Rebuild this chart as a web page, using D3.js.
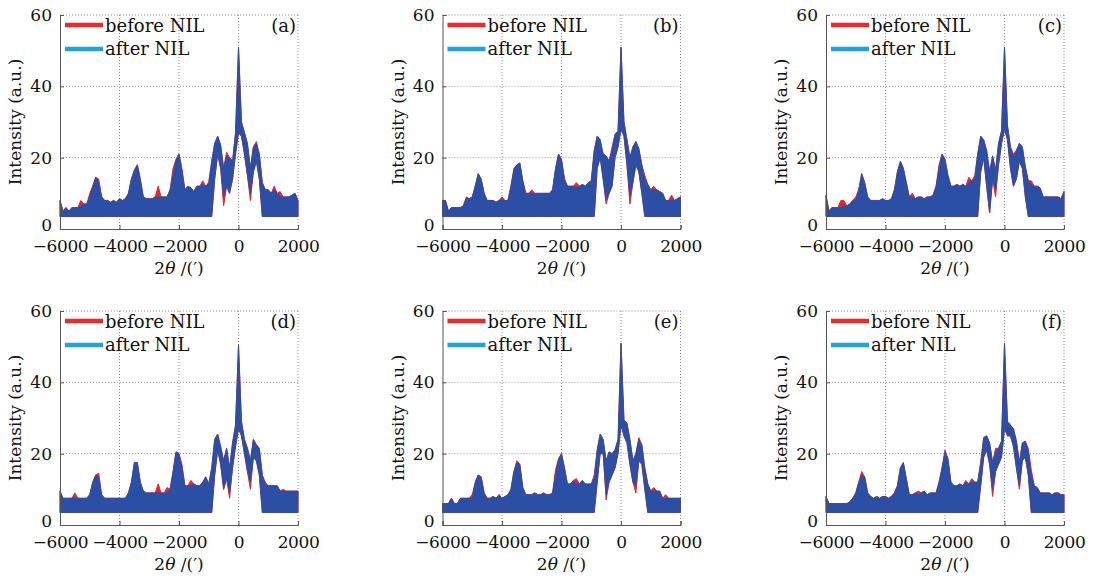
<!DOCTYPE html>
<html>
<head>
<meta charset="utf-8">
<script src="https://cdn.jsdelivr.net/npm/d3@7"></script>
<style>
  body { margin: 0; background: #fff; }
  svg text { font-family: "DejaVu Serif", serif; fill: #111; }
</style>
</head>
<body>
<svg id="fig" width="1099" height="581"></svg>
<script>
// sampling grid of the scans, 2θ in arc minutes
const angles = d3.range(-6000, 2001, 100);
const xTicks = [-6000, -4000, -2000, 0, 2000];
const yTicks = [0, 20, 40, 60];
const seriesNames = ["before NIL", "after NIL"];
const panelTags = ["(a)", "(b)", "(c)", "(d)", "(e)", "(f)"];
const F = 3.5; // noise floor

// each trace is very noisy, so it is kept as an upper and a lower envelope
// (a)
const beforeTopA = [8,5,6,5,6,6,6,8,7, 7,10,12,14.5,14,9,8,8,7.5, 8,7.5,8.5,8,8.5,10,14,16.5,18,
  14,9,8.5,8.5,8.5,9,12,9,9, 9,11,17,19.5,21,17,11,12,11.5, 10.5,12,12,13.5,12,13,19,24,26,
  23.5,17,21.5,20,19,27,51,30,27, 24,17,23,24.5,21,13,11,11,10, 12,10,10.5,9,9,9,9.5,10,8];
const beforeBotA = [F,F,F,F,F,F,F,F,F, F,F,F,F,F,F,F,F,F, F,F,F,F,F,F,F,F,F,
  F,F,F,F,F,F,F,F,F, F,F,F,F,F,F,F,F,F, F,F,F,F,F,F,F,14,21,
  17,6.5,12,10,14,21,27,26,21, 15,8,16,19,14,F,F,F,F, F,F,F,F,F,F,F,F,F];
const afterTopA = [8,5,6,5,6,6,6,6.5,7, 7,9,12,14.5,13,9,8,8,7.5, 8,7.5,8.5,8,8.5,10,14,16.5,18,
  14,9,8.5,8.5,8.5,9,9,9,9, 9,11,15,19.5,21,16,11,12,11.5, 10.5,12,12,12.5,12,13,19,24,26,
  23.5,17,20.5,20,19,27,51,30,27, 24,17,23,24,21,13,11,11,10, 11,10,9,9,9,9,9.5,10,8];
const afterBotA = [F,F,F,F,F,F,F,F,F, F,F,F,F,F,F,F,F,F, F,F,F,F,F,F,F,F,F,
  F,F,F,F,F,F,F,F,F, F,F,F,F,F,F,F,F,F, F,F,F,F,F,F,F,14,21,
  17,9,12,10,14,21,27,26,21, 15,10,16,19,14,F,F,F,F, F,F,F,F,F,F,F,F,F];

// (b)
const beforeTopB = [8,8,5,6,6,6,6,6.5,9, 8.5,9,12,15.5,14,10,8,8,8, 7.5,8,9,8,8,12,17,18,18.5,
  13.5,10,10,11,10,10,10,10,10, 10,11,17,21,19.5,14,12,12,12, 13,12,12.5,12,13,13.5,22,26,25,
  21,20.5,19,23,26.5,27.5,51,30,25, 20,23,24.5,22.5,18,15,12.5,11,12, 11,10.5,10,8,8,9.5,8,8.5,9];
const beforeBotB = [F,F,F,F,F,F,F,F,F, F,F,F,F,F,F,F,F,F, F,F,F,F,F,F,F,F,F,
  F,F,F,F,F,F,F,F,F, F,F,F,F,F,F,F,F,F, F,F,F,F,F,F,F,17,20,
  14,7,10,12,20,23,28,26,18, 7,13,18,16,10,F,F,F,F, F,F,F,F,F,F,F,F,F];
const afterTopB = [8,8,5,6,6,6,6,6.5,8.5, 8.5,9,12,15.5,14,10,8,8,8, 7.5,8,8,8,8,12,16.5,18,18.5,
  13.5,10,10,10,10,10,10,10,10, 10,11,17,21,19.5,14,12,12,12, 11.5,12,12.5,12,13,13.5,22,26,25,
  21,20.5,19,22,26.5,27.5,51,30,25, 20,23,24.5,22.5,18,14,12.5,11,11, 11,10.5,10,8,8,8,8,8.5,9];
const afterBotB = [F,F,F,F,F,F,F,F,F, F,F,F,F,F,F,F,F,F, F,F,F,F,F,F,F,F,F,
  F,F,F,F,F,F,F,F,F, F,F,F,F,F,F,F,F,F, F,F,F,F,F,F,F,17,20,
  14,8,10,12,20,23,28,26,18, 9,13,18,16,10,F,F,F,F, F,F,F,F,F,F,F,F,F];

// (c)
const beforeTopC = [9.5,5,6,6,6,8,8,6.5,7, 8,9,11,15.5,13,9,8,8,8, 8,8.5,8,8,8.5,11,16,19,17,
  13,9,10,8.5,9,9,8.5,9,9, 9.5,12,18,21,19.5,15,12,12,12.5, 12,12.5,12,14.5,13.5,15,21,26,25,
  22,16,20.5,16.5,24,27.5,51,29,23, 21,22,24,23,17.5,13.5,13.5,12,12, 11.5,9,9,9,9,9,9,8.5,10.5];
const beforeBotC = [F,F,F,F,F,F,F,F,F, F,F,F,F,F,F,F,F,F, F,F,F,F,F,F,F,F,F,
  F,F,F,F,F,F,F,F,F, F,F,F,F,F,F,F,F,F, F,F,F,F,F,F,F,16,20,
  12,4.5,14,9,18,24,28,25,17, 12,14,19,17,9,F,F,F,F, F,F,F,F,F,F,F,F,F];
const afterTopC = [9.5,5,6,6,6,6,6.5,6.5,7, 8,8,11,15.5,13,9,8,8,8, 8,8.5,8,8,8.5,11,16,19,17,
  13,9,9,8.5,9,9,8.5,9,9, 9.5,12,17,21,19.5,15,12,12,12.5, 12,12.5,12,13,13.5,14,21,26,25,
  22,16,20.5,16.5,24,27.5,51,29,23, 20,22,24,23,17.5,13.5,12.5,12,12, 11.5,9,9,9,9,9,9,8.5,10.5];
const afterBotC = [F,F,F,F,F,F,F,F,F, F,F,F,F,F,F,F,F,F, F,F,F,F,F,F,F,F,F,
  F,F,F,F,F,F,F,F,F, F,F,F,F,F,F,F,F,F, F,F,F,F,F,F,F,16,20,
  12,4.5,14,11,18,24,28,25,17, 12,14,19,17,9,F,F,F,F, F,F,F,F,F,F,F,F,F];

// (d)
const beforeTopD = [9.5,7.5,7.5,7.5,7.5,9,7.5,7.5,7.5, 7.5,8.5,12,14,14.5,8.5,7.5,7.5,7.5, 7.5,7.5,7.5,7.5,7.5,9,12,17.5,17.5,
  12,9.5,9,9,9,9,11.5,9,9, 10.5,10,15,20.5,20,17,11,11,12.5, 11.5,11,11,12,13.5,11.5,16,24,25.5,
  22,18,21.5,16,23,28,50.5,29,24, 21.5,18,24,22.5,21.5,14,12,11,11, 11,11,9.5,10,9.5,9.5,9.5,9.5,9.5];
const beforeBotD = [F,F,F,F,F,F,F,F,F, F,F,F,F,F,F,F,F,F, F,F,F,F,F,F,F,F,F,
  F,F,F,F,F,F,F,F,F, F,F,F,F,F,F,F,F,F, F,F,F,F,F,F,F,14,21,
  17,10,13,7.5,16,22,27,25,20, 15,10,19,18,14,F,F,F,F, F,F,F,F,F,F,F,F,F];
const afterTopD = [9.5,7.5,7.5,7.5,7.5,7.5,7.5,7.5,7.5, 7.5,8.5,12,14,13.5,8.5,7.5,7.5,7.5, 7.5,7.5,7.5,7.5,7.5,9,12,17.5,17.5,
  12,9.5,9,9,9,9,9,9,9, 9,10,15,20.5,20,16,11,11,11, 11.5,11,11,12,13.5,11.5,16,24,25.5,
  22,18,21.5,16,23,28,50.5,29,24, 21.5,18,24,22.5,21.5,14,11,11,11, 11,11,9.5,9.5,9.5,9.5,9.5,9.5,9.5];
const afterBotD = [F,F,F,F,F,F,F,F,F, F,F,F,F,F,F,F,F,F, F,F,F,F,F,F,F,F,F,
  F,F,F,F,F,F,F,F,F, F,F,F,F,F,F,F,F,F, F,F,F,F,F,F,F,14,21,
  17,10,13,9,16,22,27,25,20, 15,12,19,18,14,F,F,F,F, F,F,F,F,F,F,F,F,F];

// (e)
const beforeTopE = [6,6,6,7.5,6,6,7.5,7.5,7.5, 7.5,8.5,12,14,13.5,9,7.5,7.5,8, 7.5,8.5,7.5,8,8.5,10,15,18,17,
  10.5,8.5,8.5,8.5,9,8.5,8.5,9,8.5, 8.5,9,15.5,18.5,20,16,11.5,11.5,12.5, 13,11.5,12.5,11.5,11.5,11.5,14,21,25.5,
  24,18,20.5,20,21,24,51,29.5,28.5, 24,18,20,24.5,22.5,16,11.5,9.5,10.5, 9.5,9.5,7.5,8.5,7.5,7.5,7.5,7.5,7.5];
const beforeBotE = [F,F,F,F,F,F,F,F,F, F,F,F,F,F,F,F,F,F, F,F,F,F,F,F,F,F,F,
  F,F,F,F,F,F,F,F,F, F,F,F,F,F,F,F,F,F, F,F,F,F,F,F,F,12,20,
  20,7,12,14,16,20,28,25,23, 17,12,9,18,17,10,F,F,F, F,F,F,F,F,F,F,F,F];
const afterTopE = [6,6,6,7.5,6,6,7.5,7.5,7.5, 7.5,7.5,12,14,13.5,9,7.5,7.5,8, 7.5,8.5,7.5,8,8.5,10,15,17.5,17,
  10.5,8.5,8.5,8.5,9,8.5,8.5,9,8.5, 8.5,9,14,18.5,20,16,11.5,11.5,12.5, 11.5,11.5,12.5,11.5,11.5,11.5,13,21,25.5,
  24,18,20.5,20,21,24,51,29.5,28.5, 24,18,20,24,22.5,16,11.5,9.5,9.5, 9.5,9.5,7.5,7.5,7.5,7.5,7.5,7.5,7.5];
const afterBotE = [F,F,F,F,F,F,F,F,F, F,F,F,F,F,F,F,F,F, F,F,F,F,F,F,F,F,F,
  F,F,F,F,F,F,F,F,F, F,F,F,F,F,F,F,F,F, F,F,F,F,F,F,F,12,20,
  20,8.5,12,14,16,20,28,25,23, 17,12,11,18,17,10,F,F,F, F,F,F,F,F,F,F,F,F];

// (f)
const beforeTopF = [8,6,6,6,6,6,6,6,6.5, 7.5,9,12,15,13.5,9,8,7.5,8, 7.5,8,8,7.5,8,9,11,16,17.5,
  13,8.5,8.5,9,9.5,9,9.5,8.5,9, 9,9,12,16,21,18.5,12,11,11, 11.5,11,12.5,11.5,13,12,12,17.5,24.5,
  25,23,17.5,21.5,21.5,23.5,51,29,28, 27,23.5,17.5,23,23.5,21.5,15.5,11,10.5, 9,9,9,9,8.5,9,9,8.5,8.5];
const beforeBotF = [F,F,F,F,F,F,F,F,F, F,F,F,F,F,F,F,F,F, F,F,F,F,F,F,F,F,F,
  F,F,F,F,F,F,F,F,F, F,F,F,F,F,F,F,F,F, F,F,F,F,F,F,F,11,19,
  21,17,8,15,17,19,27,25,25, 22,16,10,18,19,14,F,F,F, F,F,F,F,F,F,F,F,F];
const afterTopF = [8,6,6,6,6,6,6,6,6.5, 7.5,9,12,14,13.5,9,8,7.5,8, 7.5,8,8,7.5,8,9,11,16,17.5,
  13,8.5,8.5,9,8.5,9,9.5,8.5,9, 9,9,12,16,20.5,18.5,12,11,11, 11.5,11,12,11.5,12,12,12,17.5,24.5,
  25,23,17.5,20.5,21.5,23.5,51,29,28, 27,23.5,17.5,23,23.5,20.5,14,11,10.5, 9,9,9,9,8.5,9,9,8.5,8.5];
const afterBotF = [F,F,F,F,F,F,F,F,F, F,F,F,F,F,F,F,F,F, F,F,F,F,F,F,F,F,F,
  F,F,F,F,F,F,F,F,F, F,F,F,F,F,F,F,F,F, F,F,F,F,F,F,F,11,19,
  21,17,10,15,17,19,27,25,25, 22,16,11,18,19,14,F,F,F, F,F,F,F,F,F,F,F,F];

const before = [
  [beforeTopA, beforeBotA], [beforeTopB, beforeBotB], [beforeTopC, beforeBotC],
  [beforeTopD, beforeBotD], [beforeTopE, beforeBotE], [beforeTopF, beforeBotF]
];
const after = [
  [afterTopA, afterBotA], [afterTopB, afterBotB], [afterTopC, afterBotC],
  [afterTopD, afterBotD], [afterTopE, afterBotE], [afterTopF, afterBotF]
];

// layout
const lefts = [60, 442.5, 826];
const tops = [15, 311];
const w = 238, h = 214;
const colors = { before: "#e4262b", after: "#2a4fa4", legendBefore: "#ea2a2c", legendAfter: "#1ea4dc" };

const svg = d3.select("#fig");
const x = d3.scaleLinear().domain([-6000, 2000]).range([0, w]);
const y = d3.scaleLinear().domain([0, 60]).range([h, 0]);

const area = d3.area()
  .defined(d => d.top != null && d.bot != null)
  .x(d => x(d.x))
  .y0(d => y(d.bot))
  .y1(d => y(d.top));

function toRows(pair) {
  return angles.map((a, i) => ({ x: a, top: pair[0][i], bot: pair[1][i] }));
}

panelTags.forEach((tag, p) => {
  const g = svg.append("g")
    .attr("transform", `translate(${lefts[p % 3]},${tops[Math.floor(p / 3)]})`);

  // dotted grid, including top and right edges
  g.selectAll(".vgrid").data([-4000, -2000, 0, 2000]).enter().append("line")
    .attr("x1", d => x(d)).attr("x2", d => x(d))
    .attr("y1", 0).attr("y2", h)
    .attr("stroke", "#8a8a8a").attr("stroke-dasharray", "1,2");
  g.selectAll(".hgrid").data([20, 40, 60]).enter().append("line")
    .attr("x1", 0).attr("x2", w)
    .attr("y1", d => y(d)).attr("y2", d => y(d))
    .attr("stroke", "#8a8a8a").attr("stroke-dasharray", "1,2");

  // traces
  g.append("path").datum(toRows(before[p]))
    .attr("d", area)
    .attr("fill", colors.before).attr("stroke", colors.before)
    .attr("stroke-width", 1).attr("stroke-linejoin", "round");
  g.append("path").datum(toRows(after[p]))
    .attr("d", area)
    .attr("fill", colors.after).attr("stroke", colors.after)
    .attr("stroke-width", 0.8).attr("stroke-linejoin", "round");

  // axes (left + bottom solid, ticks inward)
  const xAxis = d3.axisBottom(x).tickValues(xTicks).tickSize(-4).tickPadding(11).tickFormat(d3.format("d"));
  const yAxis = d3.axisLeft(y).tickValues(yTicks).tickSize(-4).tickPadding(8);
  const gx = g.append("g").attr("transform", `translate(0,${h})`).call(xAxis);
  const gy = g.append("g").call(yAxis);
  [gx, gy].forEach(ax => {
    ax.select(".domain").attr("stroke", "#555");
    ax.selectAll(".tick line").attr("stroke", "#555");
    ax.selectAll(".tick text")
      .attr("fill", "#111")
      .style("font-family", "'DejaVu Serif', serif")
      .style("font-size", "17px");
  });
  gx.selectAll(".tick text").style("letter-spacing", "-0.4px");
  // the "0" of the y axis sits just above the first x label, as in the original
  gy.selectAll(".tick text").filter(d => d === 0).attr("dy", "0.1em");

  // axis titles
  const xt = g.append("text")
    .attr("x", w / 2).attr("y", h + 45)
    .attr("text-anchor", "middle")
    .style("font-size", "17px");
  xt.append("tspan").text("2");
  xt.append("tspan").style("font-style", "italic").text("θ");
  xt.append("tspan").text(" /(′)");

  g.append("text")
    .attr("transform", `translate(-39,${h / 2}) rotate(-90)`)
    .attr("text-anchor", "middle")
    .style("font-size", "17px")
    .text("Intensity (a.u.)");

  // legend
  const leg = g.append("g");
  [colors.legendBefore, colors.legendAfter].forEach((c, i) => {
    leg.append("line")
      .attr("x1", 5).attr("x2", 43)
      .attr("y1", 10 + i * 24).attr("y2", 10 + i * 24)
      .attr("stroke", c).attr("stroke-width", 4.5);
    leg.append("text")
      .attr("x", 45).attr("y", 17 + i * 23)
      .style("font-size", "18px")
      .text(seriesNames[i]);
  });

  g.append("text")
    .attr("x", w - 2).attr("y", 17)
    .attr("text-anchor", "end")
    .style("font-size", "18px")
    .text(tag);
});
</script>
</body>
</html>
